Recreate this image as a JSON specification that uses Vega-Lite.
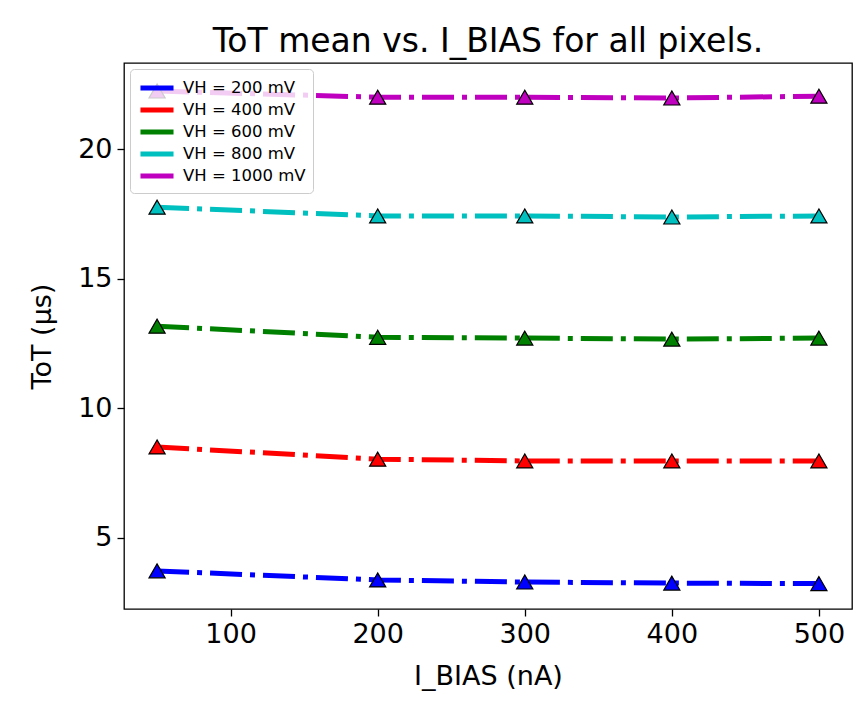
{
  "$schema": "https://vega.github.io/schema/vega-lite/v6.json",
  "width": 728,
  "height": 546,
  "autosize": "none",
  "padding": {"left": 124, "top": 63, "right": 8, "bottom": 96},
  "background": "white",
  "title": {
    "text": "ToT mean vs. I_BIAS for all pixels.",
    "font": "DejaVu Sans",
    "fontSize": 33,
    "fontWeight": "normal",
    "color": "black",
    "anchor": "middle",
    "offset": 4
  },
  "data": {
    "values": [
      {"ibias": 50, "tot": 3.73, "vh": "VH = 200 mV"},
      {"ibias": 200, "tot": 3.38, "vh": "VH = 200 mV"},
      {"ibias": 300, "tot": 3.30, "vh": "VH = 200 mV"},
      {"ibias": 400, "tot": 3.26, "vh": "VH = 200 mV"},
      {"ibias": 500, "tot": 3.24, "vh": "VH = 200 mV"},
      {"ibias": 50, "tot": 8.51, "vh": "VH = 400 mV"},
      {"ibias": 200, "tot": 8.04, "vh": "VH = 400 mV"},
      {"ibias": 300, "tot": 7.97, "vh": "VH = 400 mV"},
      {"ibias": 400, "tot": 7.97, "vh": "VH = 400 mV"},
      {"ibias": 500, "tot": 7.97, "vh": "VH = 400 mV"},
      {"ibias": 50, "tot": 13.17, "vh": "VH = 600 mV"},
      {"ibias": 200, "tot": 12.74, "vh": "VH = 600 mV"},
      {"ibias": 300, "tot": 12.71, "vh": "VH = 600 mV"},
      {"ibias": 400, "tot": 12.67, "vh": "VH = 600 mV"},
      {"ibias": 500, "tot": 12.71, "vh": "VH = 600 mV"},
      {"ibias": 50, "tot": 17.76, "vh": "VH = 800 mV"},
      {"ibias": 200, "tot": 17.42, "vh": "VH = 800 mV"},
      {"ibias": 300, "tot": 17.42, "vh": "VH = 800 mV"},
      {"ibias": 400, "tot": 17.38, "vh": "VH = 800 mV"},
      {"ibias": 500, "tot": 17.42, "vh": "VH = 800 mV"},
      {"ibias": 50, "tot": 22.24, "vh": "VH = 1000 mV"},
      {"ibias": 200, "tot": 22.0, "vh": "VH = 1000 mV"},
      {"ibias": 300, "tot": 22.0, "vh": "VH = 1000 mV"},
      {"ibias": 400, "tot": 21.97, "vh": "VH = 1000 mV"},
      {"ibias": 500, "tot": 22.04, "vh": "VH = 1000 mV"}
    ]
  },
  "encoding": {
    "x": {
      "field": "ibias",
      "type": "quantitative",
      "scale": {"domain": [27.5, 522.5], "nice": false, "zero": false},
      "axis": {"values": [100, 200, 300, 400, 500], "title": "I_BIAS (nA)"}
    },
    "y": {
      "field": "tot",
      "type": "quantitative",
      "scale": {"domain": [2.26, 23.32], "nice": false, "zero": false},
      "axis": {"values": [5, 10, 15, 20], "title": "ToT (μs)"}
    },
    "color": {
      "field": "vh",
      "type": "nominal",
      "scale": {
        "domain": ["VH = 200 mV", "VH = 400 mV", "VH = 600 mV", "VH = 800 mV", "VH = 1000 mV"],
        "range": ["#0000ff", "#ff0000", "#008000", "#00bfbf", "#bf00bf"]
      }
    }
  },
  "layer": [
    {
      "mark": {"type": "line", "strokeWidth": 5, "strokeDash": [32, 8, 5, 8], "strokeCap": "butt"},
      "encoding": {
        "color": {
          "field": "vh",
          "type": "nominal",
          "legend": {
            "orient": "top-left",
            "offset": 6,
            "title": null,
            "symbolType": "M-1.74,0H1.74",
            "symbolSize": 361,
            "symbolOffset": 8,
            "symbolStrokeWidth": 5,
            "symbolDash": [1, 0],
            "labelFont": "DejaVu Sans",
            "labelFontSize": 16.5,
            "labelColor": "black",
            "labelOffset": 14,
            "padding": 7,
            "rowPadding": 0,
            "fillColor": "rgba(255,255,255,0.8)",
            "strokeColor": "#cccccc",
            "cornerRadius": 4
          }
        }
      }
    },
    {
      "mark": {"type": "point", "shape": "triangle-up", "filled": true, "opacity": 1, "size": 260, "stroke": "black", "strokeWidth": 1.2},
      "encoding": {
        "color": {"field": "vh", "type": "nominal", "legend": null}
      }
    }
  ],
  "resolve": {"legend": {"color": "independent"}},
  "config": {
    "font": "DejaVu Sans",
    "view": {"stroke": "black", "strokeWidth": 1.3},
    "axis": {
      "grid": false,
      "domain": false,
      "tickColor": "black",
      "tickWidth": 1.3,
      "tickSize": 7,
      "labelFont": "DejaVu Sans",
      "labelFontSize": 27,
      "labelColor": "black",
      "labelPadding": 5,
      "titleFont": "DejaVu Sans",
      "titleFontSize": 27,
      "titleFontWeight": "normal",
      "titleColor": "black"
    },
    "axisY": {"titlePadding": 21},
    "axisX": {"titlePadding": 16}
  }
}
